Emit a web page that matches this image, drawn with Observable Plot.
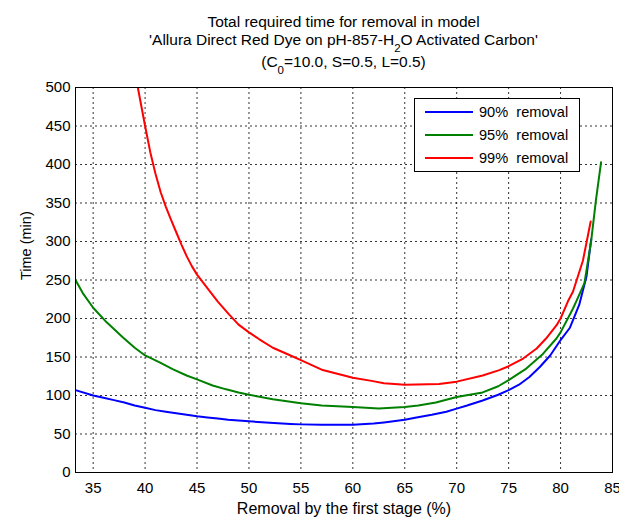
<!DOCTYPE html>
<html><head><meta charset="utf-8">
<script src="https://cdn.jsdelivr.net/npm/d3@7"></script>
<script src="https://cdn.jsdelivr.net/npm/@observablehq/plot@0.6"></script>
<style>body{margin:0;background:#fff} #chart svg{font-family:Arial,"Liberation Sans",sans-serif}</style>
</head><body><div id="chart"></div>
<script>
// ---- data ----
const seriesNames = ["90% removal", "95% removal", "99% removal"];
const seriesColors = ["#0000ff", "#008000", "#ff0000"];

const removal90X = [33.3,35,36,37,38,39,40,41,42,43,44,45,46,47,48,49,50,52,54,55,57,60,62,63,65,66,67.6,69,70,71,72.5,74,75,76,77,78,79,80,80.9,81.5,81.8,82.5,82.95];
const removal90Y = [107,100,97,94,91,87,84,81,79,77,75,73,71.5,70,68.5,67.5,66.5,64.5,63,62.5,62,62,63.5,65,68.5,71,75,79,83,87,93.5,101,107,114,124,137,152,172,188,208,218,255,303];

const removal95X = [33.3,34,35,36.3,37.9,39,40,41.4,42.7,44,45,46.5,47.8,49,50,52.3,55,57,60,62.5,65,66.3,68,70,72.5,74,75,76.7,78.3,79.6,80,81.2,81.5,82.3,82.95,83.4,83.9];
const removal95Y = [250,233,214,195,175,162,152,143,134,126,121,113,108,104,101,95,90,87,85,83,85,87,91,98,104,112,120,135,154,174,182,213,222,246,301,353,403];

const removal99X = [39.3,40,40.5,41,41.5,42,42.5,43,43.5,44,44.5,45,46.2,47,48.1,49,50,51,52.3,54,55,57.1,60,61.8,63,65,68.3,70,72.5,74.1,75,76.4,77.7,78.6,79.6,80,80.7,81.2,82.15,82.9];
const removal99Y = [500,450,416,388,364,345,328,312,296,281,268,257,236,222,205,192,182,173,162,152,146,133,123,119,116,114,115,118,126,133,138,148,161,174,191,200,222,235,275,326];

const xTicks = [35,40,45,50,55,60,65,70,75,80,85];
const yTicks = [0,50,100,150,200,250,300,350,400,450,500];

const titleLine1 = "Total required time for removal in model";
const xLabel = "Removal by the first stage (%)";
const yLabel = "Time (min)";

// ---- build table ----
const rows = [];
[[removal90X, removal90Y], [removal95X, removal95Y], [removal99X, removal99Y]].forEach(([xs, ys], i) => {
  xs.forEach((x, j) => rows.push({series: seriesNames[i], x, y: ys[j]}));
});

const W = 619, H = 517, ML = 75, MR = 7, MT = 87, MB = 45;

const chart = Plot.plot({
  width: W, height: H,
  marginLeft: ML, marginRight: MR, marginTop: MT, marginBottom: MB,
  style: {fontFamily: "Arial, 'Liberation Sans', sans-serif", fontSize: "15px", color: "#000", background: "#fff", overflow: "visible"},
  x: {domain: [33.3, 85]},
  y: {domain: [0, 500]},
  color: {domain: seriesNames, range: seriesColors},
  marks: [
    Plot.gridX(xTicks, {stroke: "#000", strokeOpacity: 0.8, strokeDasharray: "2,3"}),
    Plot.gridY(yTicks, {stroke: "#000", strokeOpacity: 0.8, strokeDasharray: "2,3"}),
    Plot.line(rows, {x: "x", y: "y", z: "series", stroke: "series", strokeWidth: 2, clip: true}),
    Plot.frame({stroke: "#000", strokeWidth: 1}),
    Plot.axisX(xTicks, {tickSize: 0, tickPadding: 10, label: null, fontSize: 15}),
    Plot.axisY(yTicks, {tickSize: 0, tickPadding: 5, label: null, fontSize: 15}),
    Plot.text([xLabel], {frameAnchor: "bottom", dy: 36, lineAnchor: "middle", fontSize: 16}),
    Plot.text([yLabel], {frameAnchor: "left", dx: -49, rotate: -90, lineAnchor: "middle", fontSize: 14.5})
  ]
});
document.getElementById("chart").appendChild(chart);

// ---- title (with subscripts) ----
const svg = d3.select(chart);
const cx = ML + (W - ML - MR) / 2;
const tg = svg.append("g").attr("font-size", 15.5).attr("text-anchor", "middle").attr("fill", "#000");
tg.append("text").attr("x", cx).attr("y", 27).text(titleLine1);
const t2 = tg.append("text").attr("x", cx).attr("y", 44.5);
t2.append("tspan").text("'Allura Direct Red Dye on pH-857-H");
t2.append("tspan").attr("dy", 7).attr("font-size", 11.5).text("2");
t2.append("tspan").attr("dy", -7).text("O Activated Carbon'");
const t3 = tg.append("text").attr("x", cx).attr("y", 67);
t3.append("tspan").text("(C");
t3.append("tspan").attr("dy", 7).attr("font-size", 11.5).text("0");
t3.append("tspan").attr("dy", -7).text("=10.0, S=0.5, L=0.5)");

// ---- legend ----
const lg = svg.append("g").attr("text-anchor", "start");
lg.append("rect").attr("x", 414.5).attr("y", 98.5).attr("width", 165).attr("height", 73)
  .attr("fill", "#fff").attr("stroke", "#000");
seriesNames.forEach((name, i) => {
  const yy = 112 + i * 23;
  lg.append("line").attr("x1", 425).attr("x2", 473).attr("y1", yy).attr("y2", yy)
    .attr("stroke", seriesColors[i]).attr("stroke-width", 2);
  lg.append("text").attr("x", 479).attr("y", yy).attr("dy", "0.36em").attr("font-size", 14.6)
    .attr("fill", "#000").text(name.replace(" ", "\u00a0 "));
});
</script>
</body></html>
